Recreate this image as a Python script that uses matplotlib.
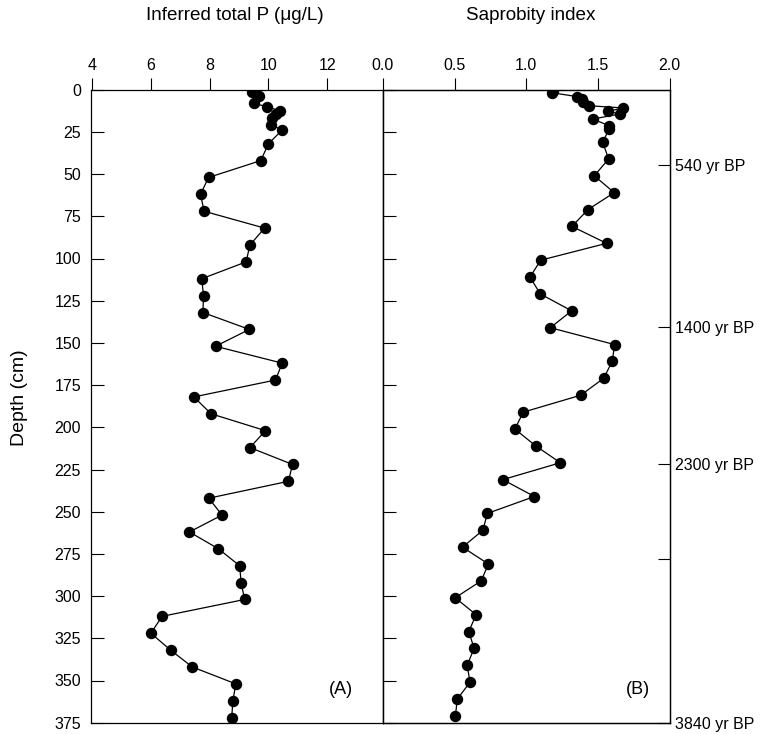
import matplotlib
matplotlib.use("Agg")
import matplotlib.pyplot as plt

plt.rcParams['font.family'] = ['Liberation Sans', 'DejaVu Sans']

# ----- panel A: inferred total P (ug/L) vs depth (cm)
depth_a = [1.5, 3.7, 8.1, 10.1, 12.4, 14.4, 17, 20.9, 23.9,
           32, 42, 52, 62, 72, 82, 92, 102, 112, 122, 132, 142, 152, 162, 172,
           182, 192, 202, 212, 222, 232, 242, 252, 262, 272, 282, 292, 302,
           312, 322, 332, 342, 352, 362, 372]
tp_a = [9.44, 9.67, 9.5, 9.96, 10.38, 10.27, 10.13, 10.1, 10.47,
        10.0, 9.74, 7.96, 7.69, 7.81, 9.87, 9.37, 9.24, 7.73, 7.79, 7.77,
        9.35, 8.2, 10.47, 10.24, 7.46, 8.05, 9.9, 9.37, 10.82, 10.68, 7.97,
        8.42, 7.31, 8.3, 9.02, 9.07, 9.19, 6.38, 6.0, 6.67, 7.41, 8.89,
        8.79, 8.75]

# ----- panel B: saprobity index vs depth (cm)
depth_b = [0.5, 1.8, 4.1, 5.5, 7.5, 9.5, 10.8, 12.8, 14.4, 17.4, 21.3, 23.3,
           31, 41, 51, 61, 71, 81, 91, 101, 111, 121, 131, 141, 151, 161, 171,
           181, 191, 201, 211, 221, 231, 241, 251, 261, 271, 281, 291, 301,
           311, 321, 331, 341, 351, 361, 371]
sap_b = [1.19, 1.18, 1.356, 1.387, 1.393, 1.44, 1.677, 1.572, 1.653, 1.463,
         1.579, 1.58,
         1.533, 1.575, 1.475, 1.614, 1.431, 1.319, 1.561, 1.101, 1.026, 1.098,
         1.317, 1.168, 1.617, 1.6, 1.54, 1.38, 0.98, 0.92, 1.066, 1.238,
         0.836, 1.057, 0.729, 0.697, 0.555, 0.736, 0.685, 0.504, 0.65, 0.599,
         0.636, 0.587, 0.608, 0.518, 0.506]

# ----- age markers on the right
age_depths = [44.6, 140.4, 221.7, 278.2, 375]
age_labels = ['540 yr BP', '1400 yr BP', '2300 yr BP', '', '3840 yr BP']

FS = 11.5      # tick labels
FS_TITLE = 13.6
W, H = 760, 734
fig = plt.figure(figsize=(W / 100, H / 100), dpi=100)

top, bot = 89.7, 722.7
axA = fig.add_axes([90.7 / W, 1 - bot / H, (383 - 90.7) / W, (bot - top) / H])
axB = fig.add_axes([383 / W, 1 - bot / H, (669.5 - 383) / W, (bot - top) / H])

style = dict(color='black', linewidth=0.9, marker='o', markersize=7.2,
             markerfacecolor='black', markeredgecolor='black')
axA.plot(tp_a, depth_a, **style)
axB.plot(sap_b, depth_b, **style)

for ax in (axA, axB):
    ax.set_ylim(375, 0)
    ax.xaxis.tick_top()
    ax.tick_params(axis='x', direction='out', length=9, width=0.8,
                   labelsize=FS, pad=3)
    ax.tick_params(axis='y', direction='in', length=9, width=0.8,
                   labelsize=FS, pad=7)
    for s in ax.spines.values():
        s.set_linewidth(0.9)
    ax.set_yticks([0, 25, 50, 75, 100, 125, 150, 175, 200, 225, 250, 275,
                   300, 325, 350, 375])

axA.set_xlim(3.95, 13.9)
axA.set_xticks([4, 6, 8, 10, 12])

axB.set_xlim(0, 2.0)
axB.set_xticks([0.0, 0.5, 1.0, 1.5, 2.0])
axB.set_xticklabels(['0.0', '0.5', '1.0', '1.5', '2.0'])
axB.tick_params(axis='y', labelleft=False)

axR = axB.twinx()
axR.set_ylim(375, 0)
axR.set_yticks(age_depths)
axR.set_yticklabels(age_labels)
axR.tick_params(axis='y', direction='in', length=9, width=0.8,
                labelsize=FS, pad=4)
for s in axR.spines.values():
    s.set_linewidth(0.9)

axA.text(0.857, 0.052, '(A)', transform=axA.transAxes, fontsize=13,
         ha='center', va='center')
axB.text(0.89, 0.052, '(B)', transform=axB.transAxes, fontsize=13,
         ha='center', va='center')

fig.text(235 / W, 1 - 15 / H, 'Inferred total P (\u03bcg/L)',
         fontsize=FS_TITLE, ha='center', va='center')
fig.text(531 / W, 1 - 15 / H, 'Saprobity index', fontsize=FS_TITLE,
         ha='center', va='center')
fig.text(20 / W, 1 - 398 / H, 'Depth (cm)', fontsize=14, rotation=90,
         ha='center', va='center')

fig.savefig('out.png', dpi=100)
